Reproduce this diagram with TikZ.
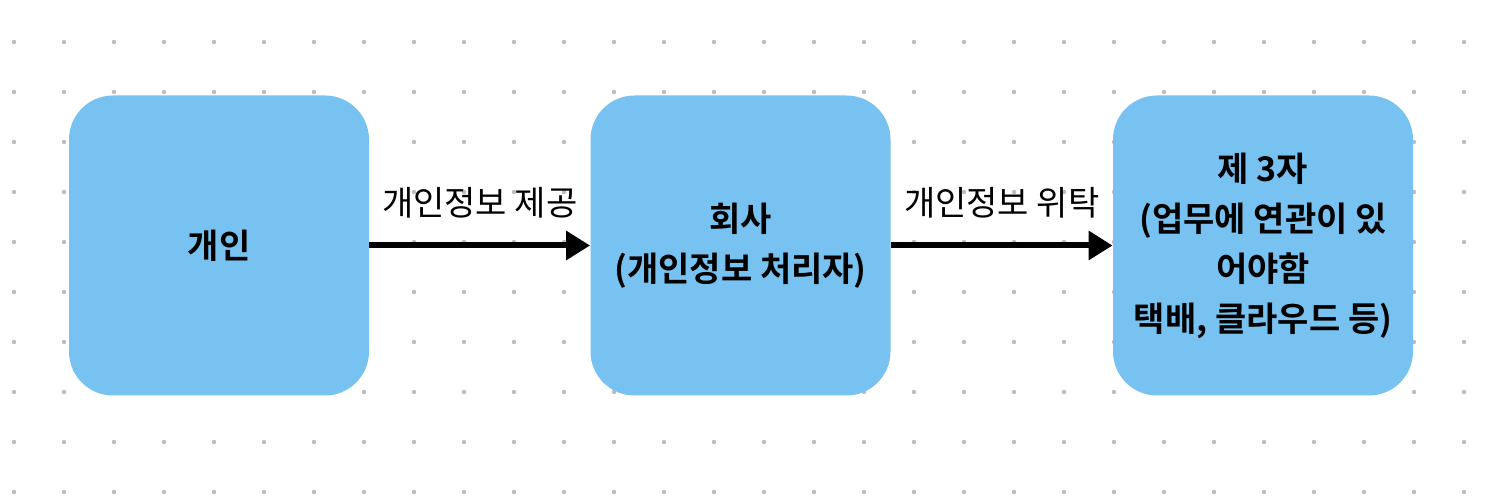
\documentclass[tikz,border=0pt]{standalone}
\usepackage{fontspec}
\setmainfont{Noto Sans CJK KR}[BoldFont={Noto Sans CJK KR Bold}]
\usetikzlibrary{arrows.meta}
\definecolor{boxblue}{HTML}{77C2F0}
\definecolor{dotgray}{HTML}{BDBDBD}

\begin{document}
\begin{tikzpicture} [x=0.5pt, y=-0.5pt,
        party/.style={shape=rectangle, fill=boxblue, rounded corners=22pt, minimum width=150pt, minimum height=150pt, align=center, font=\fontsize{17}{25}\selectfont\bfseries, inner sep=0pt},
        flow/.style={line width=3pt, -{Triangle[length=12pt, width=14pt]}},
        flowlabel/.style={font=\fontsize{17}{22}\selectfont, above=9pt}]
        \useasboundingbox (0, 0) rectangle (1496, 496);
        \foreach \col in {0,...,29}
        {
            \foreach \row in {0,...,9}
                \fill [dotgray] (14+50*\col, 42+50*\row) circle [radius=2.2];
        }
        \node [party] (person) at (219, 245.5) {개인};
        \node [party] (company) at (740.5, 245.5) {회사\\(개인정보 처리자)};
        \node [party] (third) at (1263, 245.5) {제 3자\\(업무에 연관이 있\\어야함\\택배, 클라우드 등)};
        \draw [flow] (person) -- (company) node [flowlabel, midway] (give) {개인정보 제공};
        \draw [flow] (company) -- (third) node [flowlabel, midway] (entrust) {개인정보 위탁};
    \end{tikzpicture}
\end{document}
